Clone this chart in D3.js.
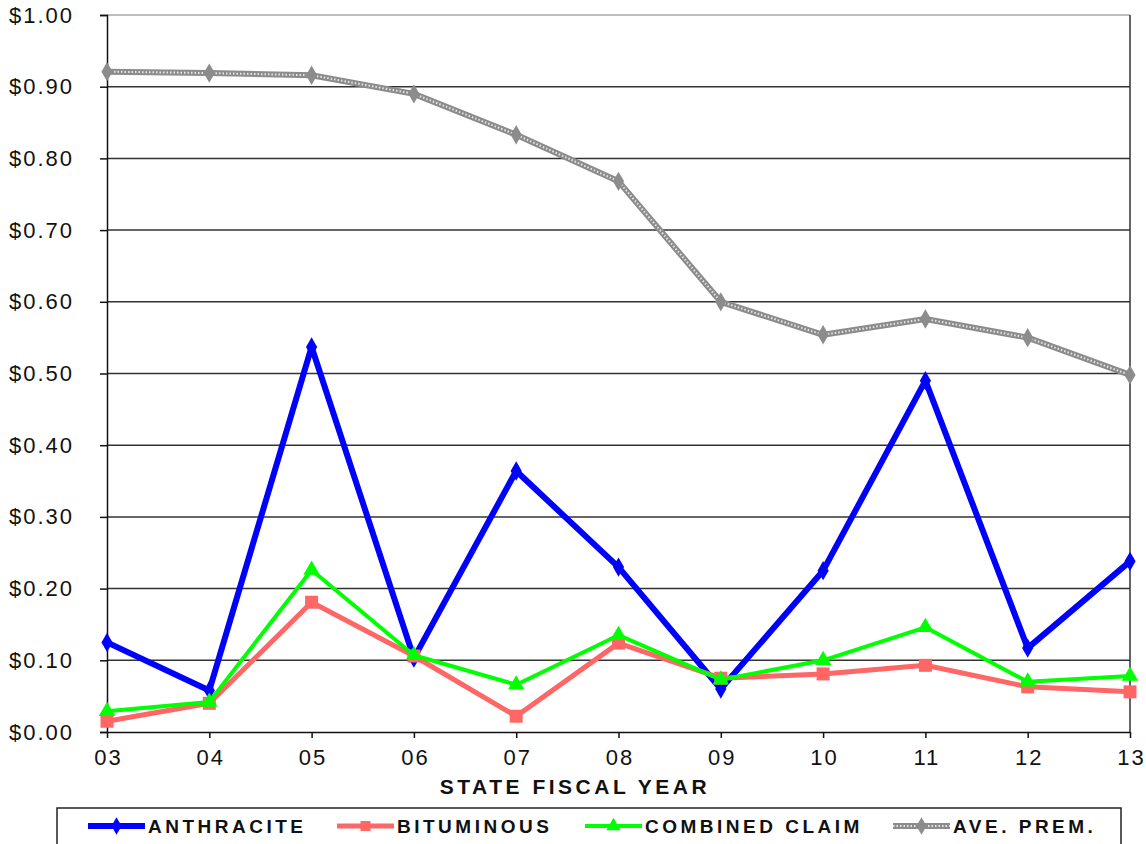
<!DOCTYPE html>
<meta charset="utf-8">
<script src="https://cdnjs.cloudflare.com/ajax/libs/d3/7.8.5/d3.min.js"></script>
<style>
body { margin: 0; background: #fff; }
text { font-family: Arial, "Liberation Sans", sans-serif; fill: #111; }
.tick text { font-size: 22px; letter-spacing: 2px; }
</style>
<body>
<script>

// chart values
var years = ["03", "04", "05", "06", "07", "08", "09", "10", "11", "12", "13"];
var anthracite = [0.125, 0.058, 0.537, 0.103, 0.364, 0.230, 0.060, 0.225, 0.490, 0.117, 0.238];
var bituminous = [0.015, 0.040, 0.181, 0.106, 0.022, 0.124, 0.075, 0.081, 0.093, 0.063, 0.056];
var combined   = [0.029, 0.042, 0.226, 0.107, 0.066, 0.135, 0.073, 0.100, 0.146, 0.070, 0.078];
var avePrem    = [0.921, 0.919, 0.916, 0.890, 0.833, 0.768, 0.600, 0.554, 0.576, 0.550, 0.498];
var yTicks = [0, 0.1, 0.2, 0.3, 0.4, 0.5, 0.6, 0.7, 0.8, 0.9, 1.0];

var series = [
  {name: "ANTHRACITE", values: anthracite, color: "#0000ff", width: 6, marker: "diamond"},
  {name: "BITUMINOUS", values: bituminous, color: "#ff6666", width: 5, marker: "square"},
  {name: "COMBINED CLAIM", values: combined, color: "#00ff00", width: 4, marker: "triangle"},
  {name: "AVE. PREM.", values: avePrem, color: "#8c8c8c", width: 6, marker: "diamond", dotted: true}
];

var width = 1146, height = 844;
var margin = {top: 15, right: 16, bottom: 112, left: 107};

var svg = d3.select("body").append("svg")
    .attr("width", width)
    .attr("height", height);

var x = d3.scalePoint()
    .domain(years)
    .range([margin.left, width - margin.right]);

var y = d3.scaleLinear()
    .domain([0, 1])
    .range([height - margin.bottom, margin.top]);

// gridlines
svg.append("g")
  .selectAll("line")
  .data(yTicks.slice(1))
  .enter().append("line")
    .attr("x1", margin.left)
    .attr("x2", width - margin.right)
    .attr("y1", d => y(d))
    .attr("y2", d => y(d))
    .style("stroke", d => d == 1 ? "#aaa" : "#333")
    .style("stroke-width", 1.5);

// right border
svg.append("line")
    .attr("x1", width - margin.right).attr("x2", width - margin.right)
    .attr("y1", margin.top).attr("y2", height - margin.bottom)
    .style("stroke", "#333").style("stroke-width", 1.5);

// y axis
var yAxis = svg.append("g")
    .attr("transform", "translate(" + margin.left + ",0)")
    .call(d3.axisLeft(y).tickValues(yTicks).tickSize(7).tickPadding(28)
      .tickFormat(d => "$" + d3.format(".2f")(d)));
yAxis.select(".domain").style("stroke", "#111").style("stroke-width", 1.5);
yAxis.selectAll(".tick line").style("stroke", "#111").style("stroke-width", 1.5);
yAxis.selectAll(".tick text").attr("dx", "2px");

// x axis
var xAxis = svg.append("g")
    .attr("transform", "translate(0," + (height - margin.bottom) + ")")
    .call(d3.axisBottom(x).tickSize(6).tickPadding(11).tickSizeOuter(0));
xAxis.select(".domain").style("stroke", "#111").style("stroke-width", 1.5);
xAxis.selectAll(".tick line").style("stroke", "#111").style("stroke-width", 1.5);
xAxis.selectAll(".tick text").attr("dx", "1px");

svg.append("text")
    .attr("x", 575)
    .attr("y", 794)
    .attr("text-anchor", "middle")
    .style("font-size", "21px")
    .style("font-weight", "bold")
    .style("letter-spacing", "3.5px")
    .text("STATE FISCAL YEAR");

var line = d3.line()
    .x((d, i) => x(years[i]))
    .y(d => y(d));

function marker(g, type, color, size) {
  if (type == "diamond") {
    g.append("path").attr("d", d3.symbol(d3.symbolDiamond, size * 9)()).style("fill", color);
  } else if (type == "square") {
    g.append("path").attr("d", d3.symbol(d3.symbolSquare, size * size)()).style("fill", color);
  } else {
    g.append("path").attr("d", d3.symbol(d3.symbolTriangle, size * 9)()).style("fill", color);
  }
}

var markerSize = {diamond: 12, square: 13, triangle: 13};

series.forEach(function(s) {
  var g = svg.append("g");
  g.append("path")
    .datum(s.values)
    .attr("d", line)
    .style("fill", "none")
    .style("stroke", s.color)
    .style("stroke-width", s.width)
    .style("stroke-linejoin", "round");
  if (s.dotted) {
    g.append("path")
      .datum(s.values)
      .attr("d", line)
      .style("fill", "none")
      .style("stroke", "#e6e6e6")
      .style("stroke-width", 2)
      .style("stroke-dasharray", "1.5,2");
  }
  s.values.forEach(function(v, i) {
    var m = g.append("g").attr("transform", "translate(" + x(years[i]) + "," + y(v) + ")");
    marker(m, s.marker, s.color, markerSize[s.marker]);
  });
});

// legend
var legend = svg.append("g");
legend.append("rect")
    .attr("x", 57).attr("y", 808)
    .attr("width", 1064).attr("height", 50)
    .style("fill", "#fff")
    .style("stroke", "#222")
    .style("stroke-width", 1.5);

var legendX = [88, 337, 585, 893];
series.forEach(function(s, i) {
  var lg = legend.append("g").attr("transform", "translate(" + legendX[i] + ",826)");
  lg.append("line")
    .attr("x1", 0).attr("x2", 57)
    .style("stroke", s.color)
    .style("stroke-width", s.width);
  if (s.dotted) {
    lg.append("line")
      .attr("x1", 0).attr("x2", 57)
      .style("stroke", "#e6e6e6")
      .style("stroke-width", 2)
      .style("stroke-dasharray", "1.5,2");
  }
  var m = lg.append("g").attr("transform", "translate(28.5,0)");
  marker(m, s.marker, s.color, 10);
  lg.append("text")
    .attr("x", 60)
    .attr("y", 7)
    .style("font-size", "19px")
    .style("font-weight", "bold")
    .style("letter-spacing", "3.5px")
    .text(s.name);
});

</script>
</body>
